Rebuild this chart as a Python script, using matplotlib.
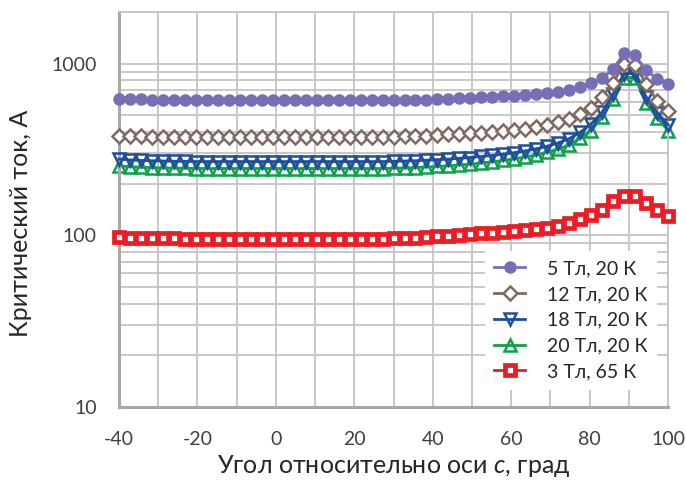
import numpy as np
import matplotlib
matplotlib.use('Agg')
import matplotlib.pyplot as plt
from matplotlib.ticker import LogLocator, NullFormatter, FixedLocator

plt.rcParams['font.family'] = ['Lato', 'DejaVu Sans']
plt.rcParams['mathtext.fontset'] = 'custom'
plt.rcParams['mathtext.rm'] = 'Lato'
plt.rcParams['mathtext.it'] = 'Lato:italic'
plt.rcParams['axes.unicode_minus'] = False

#%% данные
ugol = [-40, -37.2, -34.4, -31.6, -28.8, -26, -23.2, -20.4, -17.6, -14.8,
        -12, -9.2, -6.4, -3.6, -0.8, 2, 4.8, 7.6, 10.4, 13.2,
        16, 18.8, 21.6, 24.4, 27.2, 30, 32.8, 35.6, 38.4, 41.2,
        44, 46.8, 49.6, 52.4, 55.2, 58, 60.8, 63.6, 66.4, 69.2,
        72, 74.8, 77.6, 80.4, 83.2, 86, 88.8, 91.6, 94.4, 97.2, 100]

tok_5T = [625, 622, 620, 618, 617, 616, 615, 614, 613, 612,
          612, 612, 611, 611, 611, 611, 611, 611, 611, 611,
          611, 611, 611, 612, 612, 613, 614, 616, 618, 620,
          624, 628, 632, 637, 641, 646, 651, 657, 664, 672,
          685, 703, 728, 772, 821, 931, 1148, 1117, 919, 815, 762]

tok_12T = [381, 379, 377, 376, 375, 374, 374, 373, 373, 372,
           372, 372, 372, 372, 372, 372, 372, 372, 372, 372,
           372, 372, 373, 373, 374, 375, 377, 379, 381, 384,
           387, 390, 393, 397, 402, 408, 413, 419, 427, 438,
           455, 477, 510, 555, 640, 775, 1000, 985, 765, 609, 533]

tok_18T = [278, 275, 273, 272, 271, 270, 270, 269, 269, 269,
           269, 269, 269, 269, 269, 269, 269, 269, 269, 269,
           269, 269, 269, 269, 269, 270, 271, 272, 274, 276,
           278, 281, 284, 288, 292, 297, 303, 310, 319, 330,
           345, 366, 398, 446, 521, 667, 875, 875, 640, 519, 442]

tok_20T = [254, 251, 249, 248, 247, 246, 246, 245, 245, 245,
           245, 245, 245, 245, 245, 245, 245, 245, 245, 245,
           245, 245, 245, 245, 245, 246, 247, 248, 250, 252,
           254, 257, 260, 264, 268, 273, 279, 286, 294, 305,
           318, 336, 368, 408, 487, 624, 830, 830, 590, 485, 408]

tok_3T = [97.5, 97, 96.8, 96.5, 96.3, 96, 95.8, 95.6, 95.5, 95.5,
          95.5, 95.5, 95.5, 95.5, 95.5, 95.5, 95.5, 95.5, 95.5, 95.5,
          95.5, 95.5, 95.6, 95.7, 95.8, 96, 96.5, 97, 97.5, 98.5,
          99.5, 100.5, 101.5, 102.5, 103.5, 104.5, 106, 107.5, 109.5, 111,
          114, 118, 124, 132, 141, 158, 169, 169, 154, 141, 129]

#%% рисунок
fig = plt.figure(figsize=(6.86, 4.82), dpi=100)
ax = fig.add_axes([0.1735, 0.1556, 0.8003, 0.8195])

ax.plot(ugol, tok_5T, '-o', color='#7570b6', lw=2, ms=8, label='5 Тл, 20 К',
        zorder=5, clip_on=False)
ax.plot(ugol, tok_12T, '-D', color='#7e6a62', lw=2, ms=7, mfc='white', mew=1.8,
        label='12 Тл, 20 К', zorder=4, clip_on=False)
ax.plot(ugol, tok_18T, '-v', color='#1e4f9e', lw=2, ms=8.5, mfc='none', mew=1.8,
        label='18 Тл, 20 К', zorder=3, clip_on=False)
ax.plot(ugol, tok_20T, '-^', color='#0ea14a', lw=2, ms=8.5, mfc='none', mew=1.8,
        label='20 Тл, 20 К', zorder=2, clip_on=False)
ax.plot(ugol, tok_3T, '-s', color='#ec1c24', lw=2, ms=7.5, mfc='white', mew=3.4,
        label='3 Тл, 65 К', zorder=6, clip_on=False)

ax.set_yscale('log')
ax.set_ylim(10, 2000)
ax.set_xlim(-40, 100)
ax.xaxis.set_major_locator(FixedLocator([-40, -20, 0, 20, 40, 60, 80, 100]))
ax.xaxis.set_minor_locator(FixedLocator([-30, -10, 10, 30, 50, 70, 90]))
ax.yaxis.set_major_locator(FixedLocator([10, 100, 1000]))
ax.yaxis.set_major_formatter(plt.FuncFormatter(lambda v, p: '%d' % v))
ax.yaxis.set_minor_locator(LogLocator(base=10, subs=np.arange(2, 10)))
ax.yaxis.set_minor_formatter(NullFormatter())

ax.grid(True, which='both', color='#c4c4c4', lw=1.3)
ax.set_axisbelow(True)
for s in ['top', 'right']:
    ax.spines[s].set_color('#c4c4c4')
    ax.spines[s].set_linewidth(1.3)
for s in ['left', 'bottom']:
    ax.spines[s].set_color('#a8a8a8')
    ax.spines[s].set_linewidth(2.2)
ax.tick_params(which='both', length=0, labelsize=14, colors='#404040')
ax.tick_params(axis='x', pad=17)
ax.tick_params(axis='y', pad=16)

ax.set_xlabel('Угол относительно оси $c$, град', fontsize=18, labelpad=4,
              color='#262626')
ax.set_ylabel('Критический ток, А', fontsize=18, color='#262626')
ax.yaxis.set_label_coords(-0.158, 0.465)

leg = ax.legend(loc='lower right', bbox_to_anchor=(0.98, 0.043), fontsize=14,
                frameon=True, fancybox=False, edgecolor='white', framealpha=1,
                handlelength=1.6, labelspacing=0.45, borderpad=0.5,
                handletextpad=1.1, borderaxespad=0)
leg.get_frame().set_linewidth(0)
for t in leg.get_texts():
    t.set_color('#262626')

fig.savefig('out.png', dpi=100)
